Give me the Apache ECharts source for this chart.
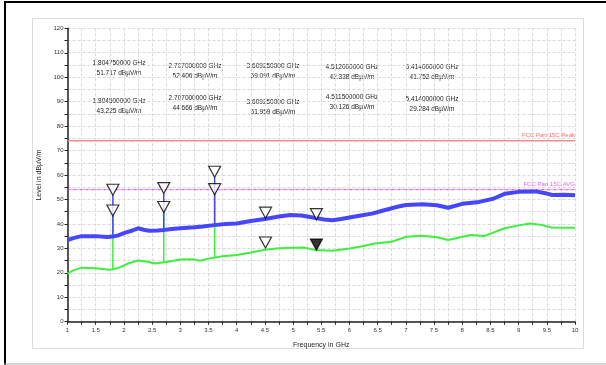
<!DOCTYPE html>
<html>
<head>
<meta charset="utf-8">
<script src="https://cdn.jsdelivr.net/npm/echarts@6/dist/echarts.min.js"></script>
<style>
html,body{margin:0;padding:0;background:#fff;}
#chart{width:606px;height:365px;}
</style>
</head>
<body>
<div id="chart"></div>
<script>
// ---- data ----
var peakFreq  = [1.0,1.1,1.25,1.5,1.7,1.8,1.9,2.0,2.15,2.25,2.35,2.45,2.6,2.7,2.85,3.0,3.25,3.4,3.6,3.8,4.0,4.25,4.5,4.75,4.95,5.15,5.4,5.55,5.7,5.85,6.0,6.2,6.4,6.6,6.85,7.0,7.3,7.55,7.75,8.0,8.3,8.55,8.75,9.0,9.3,9.5,9.6,9.8,10.0];
var peakLevel = [33.4,34.2,35.0,35.0,34.6,34.8,35.3,36.2,37.3,38.2,37.6,37.2,37.3,37.5,37.9,38.2,38.6,38.9,39.5,40.0,40.2,41.2,42.0,43.0,43.6,43.4,42.4,41.8,41.5,42.0,42.6,43.4,44.2,45.5,47.0,47.7,48.0,47.6,46.6,48.2,49.0,50.3,52.3,53.1,53.3,52.4,51.8,51.9,51.7];
var avgFreq   = [1.0,1.1,1.25,1.5,1.75,1.9,2.0,2.1,2.25,2.4,2.55,2.75,3.0,3.25,3.35,3.5,3.75,4.0,4.25,4.5,4.75,5.0,5.2,5.4,5.7,6.0,6.25,6.45,6.75,7.0,7.3,7.55,7.75,8.15,8.4,8.75,9.0,9.2,9.4,9.58,10.0];
var avgLevel  = [19.7,21.0,22.1,21.9,21.2,22.0,23.0,24.0,25.0,24.6,23.8,24.4,25.4,25.5,24.9,25.8,26.8,27.3,28.3,29.4,30.0,30.2,30.3,29.3,29.0,29.9,31.0,32.0,32.7,34.7,35.2,34.5,33.4,35.5,35.1,38.2,39.4,40.2,39.6,38.5,38.4];

// narrow emissions (spikes): base level on trace and top level
var spikeFreq      = [1.80475,2.707,3.60925];
var peakSpikeBase  = [34.8,37.5,39.5];
var peakSpikeTop   = [51.717,52.406,59.091];
var avgSpikeFreq   = [1.8045,2.707,3.60925];
var avgSpikeBase   = [21.5,24.4,25.9];
var avgSpikeTop    = [43.225,44.666,51.959];

// markers
var peakMarkerFreq  = [1.80475,2.707,3.60925,4.512,5.414];
var peakMarkerLevel = [51.717,52.406,59.091,42.338,41.752];
var avgMarkerFreq   = [1.8045,2.707,3.60925,4.5115,5.414];
var avgMarkerLevel  = [43.225,44.666,51.959,30.126,29.284];
var activeAvgMarker = 4;

// limits
var limitPeak = 74, limitPeakName = 'FCC Part 15C Peak';
var limitAvg  = 54, limitAvgName  = 'FCC Part 15C AVG';

var xTitle = 'Frequency in GHz';
var yTitle = 'Level in dB\u00b5V/m';
var unit = 'dB\u00b5V/m';

// ---- layout (pixels) ----
var peakLabelPos = [[119,63],[195,66],[273,66],[352,67],[432,67]];
var avgLabelPos  = [[119,101],[195,98],[273,102],[352,97],[432,99]];

function zip(a,b){return a.map(function(v,i){return [v,b[i]];});}
function spikeData(f,b,t){var d=[];for(var i=0;i<f.length;i++){d.push([f[i],b[i]]);d.push([f[i],t[i]]);d.push([f[i],null]);}return d;}

var FONT = 'Liberation Sans, Arial, sans-serif';
var BLUE = '#4646ff', GREEN = '#3df03d';

var graphics = [
  {type:'rect',shape:{x:32.5,y:18.5,width:551,height:330},style:{fill:'none',stroke:'#dcdcdc',lineWidth:1},z:-1},
  {type:'line',shape:{x1:4,y1:2,x2:606,y2:2},style:{stroke:'#000',lineWidth:2}},
  {type:'line',shape:{x1:5,y1:2,x2:5,y2:365},style:{stroke:'#000',lineWidth:2}},
  {type:'line',shape:{x1:4,y1:364,x2:606,y2:364},style:{stroke:'#aaa',lineWidth:1}}
];
function addLabel(pos,f,v){
  graphics.push({type:'text',x:pos[0],y:pos[1],style:{text:f.toFixed(9)+' GHz',fill:'#222',font:'6.5px '+FONT,textAlign:'center',textVerticalAlign:'middle'}});
  graphics.push({type:'text',x:pos[0],y:pos[1]+10,style:{text:v.toFixed(3)+' '+unit,fill:'#222',font:'6.5px '+FONT,textAlign:'center',textVerticalAlign:'middle'}});
}
for(var i=0;i<peakMarkerFreq.length;i++){addLabel(peakLabelPos[i],peakMarkerFreq[i],peakMarkerLevel[i]);}
for(var i=0;i<avgMarkerFreq.length;i++){addLabel(avgLabelPos[i],avgMarkerFreq[i],avgMarkerLevel[i]);}

var gridLine = {show:true,lineStyle:{color:'#d9d9d9',width:1,type:[3,2]}};

function limitSeries(val,name,lineColor,lineType,lineWidth,textColor){
  return {type:'line',name:name,data:[[1,val],[10,val]],showSymbol:false,symbol:'none',silent:true,
    lineStyle:{color:lineColor,width:lineWidth,type:lineType},z:1,
    markLine:{silent:true,symbol:'none',animation:false,
      lineStyle:{color:'rgba(255,255,255,0)',width:0.01},
      label:{show:true,color:textColor},
      data:[{yAxis:val,label:{show:true,formatter:name,position:'insideEndTop',color:textColor,opacity:1,fontFamily:FONT,fontSize:6,distance:[0,2]}}]}};
}

var chart = echarts.init(document.getElementById('chart'),null,{renderer:'canvas'});
chart.setOption({
  animation:false,
  backgroundColor:'#fff',
  grid:{left:67.5,right:31,top:28.3,bottom:43.3},
  xAxis:{type:'value',min:1,max:10,interval:0.5,
    name:xTitle,nameLocation:'middle',nameGap:20,
    nameTextStyle:{fontFamily:FONT,fontSize:7,color:'#222'},
    axisLine:{lineStyle:{color:'#222',width:1.5}},
    axisTick:{show:true,length:3,lineStyle:{color:'#222',width:1}},
    minorTick:{show:true,splitNumber:2,length:3,lineStyle:{color:'#222',width:1}},
    axisLabel:{fontFamily:FONT,fontSize:6,color:'#333',margin:6},
    splitLine:gridLine,minorSplitLine:gridLine},
  yAxis:{type:'value',min:0,max:120,interval:10,
    name:yTitle,nameLocation:'middle',nameGap:16,
    nameTextStyle:{fontFamily:FONT,fontSize:7,color:'#222'},
    axisLine:{show:true,lineStyle:{color:'#222',width:1.5}},
    axisTick:{show:true,length:3,lineStyle:{color:'#222',width:1}},
    minorTick:{show:true,splitNumber:2,length:3,lineStyle:{color:'#222',width:1}},
    axisLabel:{fontFamily:FONT,fontSize:6,color:'#333',margin:4},
    splitLine:gridLine,minorSplitLine:gridLine},
  graphic:graphics,
  series:[
    limitSeries(limitPeak,limitPeakName,'#f28b8b','solid',1.5,'#ff6b6b'),
    limitSeries(limitAvg,limitAvgName,'#ff33ff',[3,1,1,1],1,'#e866e8'),
    {type:'line',name:'avg',data:zip(avgFreq,avgLevel),showSymbol:false,symbol:'none',
      lineStyle:{color:GREEN,width:2},z:2},
    {type:'line',name:'avgSpike',data:spikeData(avgSpikeFreq,avgSpikeBase,avgSpikeTop),showSymbol:false,symbol:'none',connectNulls:false,
      lineStyle:{color:GREEN,width:1.5},z:3},
    {type:'line',name:'peak',data:zip(peakFreq,peakLevel),showSymbol:false,symbol:'none',
      lineStyle:{color:BLUE,width:4},z:4},
    {type:'line',name:'peakSpike',data:spikeData(spikeFreq,peakSpikeBase,peakSpikeTop),showSymbol:false,symbol:'none',connectNulls:false,
      lineStyle:{color:BLUE,width:1.5},z:5},
    {type:'scatter',name:'peakMarkers',data:zip(peakMarkerFreq,peakMarkerLevel),
      symbol:'triangle',symbolSize:[12,11],symbolRotate:180,symbolOffset:[0,-5.5],
      itemStyle:{color:'#fff',borderColor:'#000',borderWidth:1.2},z:10},
    {type:'scatter',name:'avgMarkers',data:zip(avgMarkerFreq,avgMarkerLevel).map(function(d,i){
        return i===activeAvgMarker?{value:d,itemStyle:{color:'#000'}}:{value:d};}),
      symbol:'triangle',symbolSize:[12,11],symbolRotate:180,symbolOffset:[0,-5.5],
      itemStyle:{color:'#fff',borderColor:'#000',borderWidth:1.2},z:10}
  ]
});
</script>
</body>
</html>
